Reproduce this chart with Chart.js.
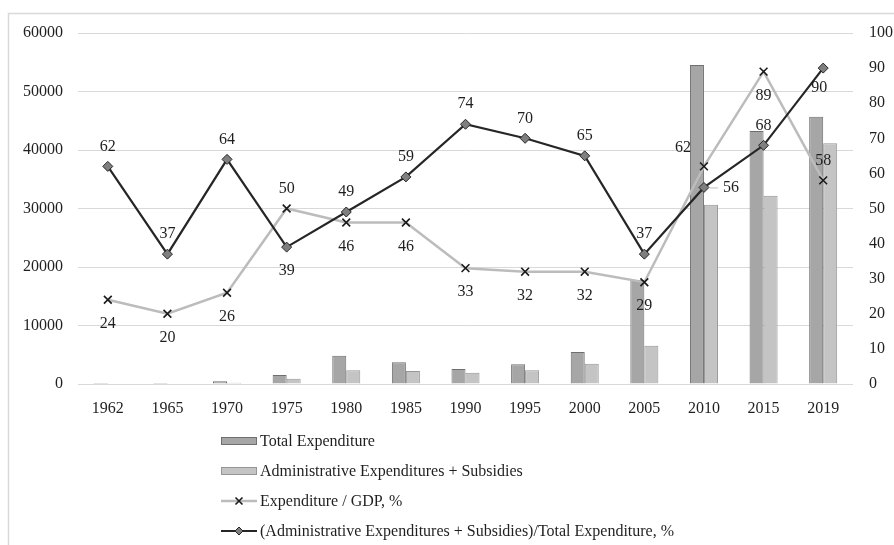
<!DOCTYPE html>
<html>
<head>
<meta charset="utf-8">
<title>Expenditure chart</title>
<script src="https://cdn.jsdelivr.net/npm/chart.js@4/dist/chart.umd.min.js"></script>
<style>
  html, body { margin: 0; padding: 0; background: #fff; }
  #wrap { width: 894px; height: 545px; position: relative; }
</style>
</head>
<body>
<div id="wrap"><canvas id="c" width="894" height="545"></canvas></div>
<script>
// Years on the category axis
const years = ['1962','1965','1970','1975','1980','1985','1990','1995','2000','2005','2010','2015','2019'];

// Bar series (left axis)
const totalExpenditure = [150, 150, 460, 1540, 4840, 3700, 2560, 3360, 5470, 17780, 54530, 43250, 45690];
const adminSubsidies   = [100, 100, 220, 900, 2340, 2220, 1940, 2340, 3470, 6550, 30650, 32190, 41140];

// Line series (right axis, %)
const expenditureGdp = [24, 20, 26, 50, 46, 46, 33, 32, 32, 29, 62, 89, 58];
const adminShare     = [62, 37, 64, 39, 49, 59, 74, 70, 65, 37, 56, 68, 90];

// Axis ticks
const leftTicks  = [0, 10000, 20000, 30000, 40000, 50000, 60000];
const rightTicks = [0, 10, 20, 30, 40, 50, 60, 70, 80, 90, 100];

// Where each value label sits relative to its point
const gdpLabelPlace   = ['below','below','below','above','below','below','below','below','below','below','left','below','above'];
const shareLabelPlace = ['above','above','above','below','above','above','above','above','above','above','right','above','belowLeft'];

const FONT = 'Liberation Serif, "Times New Roman", serif';
const TEXT = '#1f1f1f';
const GRID = '#d9d9d9';

const frame = {
  id: 'frame',
  beforeDraw(chart) {
    const ctx = chart.ctx;
    ctx.save();
    ctx.fillStyle = '#fff';
    ctx.fillRect(0, 0, chart.width, chart.height);
    ctx.strokeStyle = GRID;
    ctx.lineWidth = 1.5;
    ctx.beginPath();
    ctx.moveTo(8.5, chart.height);
    ctx.lineTo(8.5, 13.5);
    ctx.lineTo(chart.width, 13.5);
    ctx.stroke();
    ctx.restore();
  }
};

const valueLabels = {
  id: 'valueLabels',
  afterDatasetsDraw(chart) {
    const ctx = chart.ctx;
    ctx.save();
    ctx.font = '16px ' + FONT;
    ctx.fillStyle = TEXT;
    ctx.textAlign = 'center';
    ctx.textBaseline = 'middle';
    const specs = [[2, gdpLabelPlace], [3, shareLabelPlace]];
    specs.forEach(([di, places]) => {
      const meta = chart.getDatasetMeta(di);
      const data = chart.data.datasets[di].data;
      meta.data.forEach((pt, i) => {
        let x = pt.x, y = pt.y;
        const p = places[i];
        if (p === 'above') y -= 20;
        else if (p === 'below') y += 24;
        else if (p === 'belowLeft') { y += 20; x -= 4; }
        else if (p === 'left') { x -= 21; y -= 19; }
        else if (p === 'right') {
          ctx.save();
          ctx.strokeStyle = '#bfbfbf';
          ctx.lineWidth = 1;
          ctx.beginPath();
          ctx.moveTo(x + 6, y + 0.5);
          ctx.lineTo(x + 14, y + 0.5);
          ctx.stroke();
          ctx.restore();
          x += 27;
        }
        ctx.fillText(String(data[i]), x, y);
      });
    });
    ctx.restore();
  }
};

const legendBlock = {
  id: 'legendBlock',
  afterDraw(chart) {
    const ctx = chart.ctx;
    const ds = chart.data.datasets;
    const x0 = 221, x1 = 257, tx = 260;
    const rows = [441, 471, 501, 531];
    ctx.save();
    ctx.font = '16px ' + FONT;
    ctx.textBaseline = 'middle';
    ctx.textAlign = 'left';
    ds.forEach((d, i) => {
      const y = rows[i];
      if (d.type === 'line') {
        ctx.strokeStyle = d.borderColor;
        ctx.lineWidth = d.borderWidth;
        ctx.beginPath();
        ctx.moveTo(x0, y); ctx.lineTo(x1, y);
        ctx.stroke();
        const cx = (x0 + x1) / 2;
        if (d.pointStyle === 'crossRot') {
          ctx.strokeStyle = d.pointBorderColor;
          ctx.lineWidth = d.pointBorderWidth;
          const r = 3.5;
          ctx.beginPath();
          ctx.moveTo(cx - r, y - r); ctx.lineTo(cx + r, y + r);
          ctx.moveTo(cx + r, y - r); ctx.lineTo(cx - r, y + r);
          ctx.stroke();
        } else {
          const r = 4;
          ctx.fillStyle = d.pointBackgroundColor;
          ctx.strokeStyle = d.pointBorderColor;
          ctx.lineWidth = 1;
          ctx.beginPath();
          ctx.moveTo(cx, y - r); ctx.lineTo(cx + r, y); ctx.lineTo(cx, y + r); ctx.lineTo(cx - r, y);
          ctx.closePath();
          ctx.fill(); ctx.stroke();
        }
      } else {
        ctx.fillStyle = d.backgroundColor;
        ctx.strokeStyle = d.borderColor;
        ctx.lineWidth = 1;
        ctx.fillRect(x0, y - 3.5, x1 - x0, 7);
        ctx.strokeRect(x0 + 0.5, y - 3.5, x1 - x0 - 1, 7);
      }
      ctx.fillStyle = TEXT;
      ctx.fillText(d.label, tx, y + 1);
    });
    ctx.restore();
  }
};

new Chart(document.getElementById('c'), {
  type: 'bar',
  data: {
    labels: years,
    datasets: [
      {
        type: 'bar',
        label: 'Total Expenditure',
        data: totalExpenditure,
        yAxisID: 'y',
        backgroundColor: '#a6a6a6',
        borderColor: '#6f6f6f',
        borderWidth: 1,
        order: 2
      },
      {
        type: 'bar',
        label: 'Administrative Expenditures + Subsidies',
        data: adminSubsidies,
        yAxisID: 'y',
        backgroundColor: '#c4c4c4',
        borderColor: '#959595',
        borderWidth: 1,
        order: 2
      },
      {
        type: 'line',
        label: 'Expenditure / GDP, %',
        data: expenditureGdp,
        yAxisID: 'y1',
        borderColor: '#bcbcbc',
        borderWidth: 2.5,
        pointStyle: 'crossRot',
        pointRadius: 5.5,
        pointBorderColor: '#1a1a1a',
        pointBorderWidth: 1.6,
        pointBackgroundColor: '#1a1a1a',
        tension: 0,
        order: 1
      },
      {
        type: 'line',
        label: '(Administrative Expenditures + Subsidies)/Total Expenditure, %',
        data: adminShare,
        yAxisID: 'y1',
        borderColor: '#262626',
        borderWidth: 2.2,
        pointStyle: 'rectRot',
        pointRadius: 5,
        pointBackgroundColor: '#7f7f7f',
        pointBorderColor: '#262626',
        pointBorderWidth: 1,
        tension: 0,
        order: 0
      }
    ]
  },
  options: {
    responsive: false,
    animation: false,
    events: [],
    layout: { padding: { top: 33, bottom: 131, left: 0, right: 0 } },
    datasets: { bar: { categoryPercentage: 0.47, barPercentage: 1.0 } },
    plugins: {
      legend: { display: false },
      tooltip: { enabled: false },
      title: { display: false }
    },
    scales: {
      x: {
        grid: { display: false, drawTicks: false },
        border: { display: false },
        ticks: { font: { family: FONT, size: 16 }, color: TEXT, padding: 15, maxRotation: 0 },
        afterFit(s) { s.height = 30; }
      },
      y: {
        position: 'left',
        min: leftTicks[0],
        max: leftTicks[leftTicks.length - 1],
        afterBuildTicks(s) { s.ticks = leftTicks.map(v => ({ value: v })); },
        grid: { color: GRID, lineWidth: 1, drawTicks: false },
        border: { display: false },
        ticks: { font: { family: FONT, size: 16 }, color: TEXT, padding: 15, callback: v => String(v) },
        afterFit(s) { s.width = 78; }
      },
      y1: {
        position: 'right',
        min: rightTicks[0],
        max: rightTicks[rightTicks.length - 1],
        afterBuildTicks(s) { s.ticks = rightTicks.map(v => ({ value: v })); },
        grid: { display: false, drawTicks: false },
        border: { display: false },
        ticks: { font: { family: FONT, size: 16 }, color: TEXT, padding: 16, callback: v => String(v) },
        afterFit(s) { s.width = 41; }
      }
    }
  },
  plugins: [frame, valueLabels, legendBlock]
});
</script>
</body>
</html>
